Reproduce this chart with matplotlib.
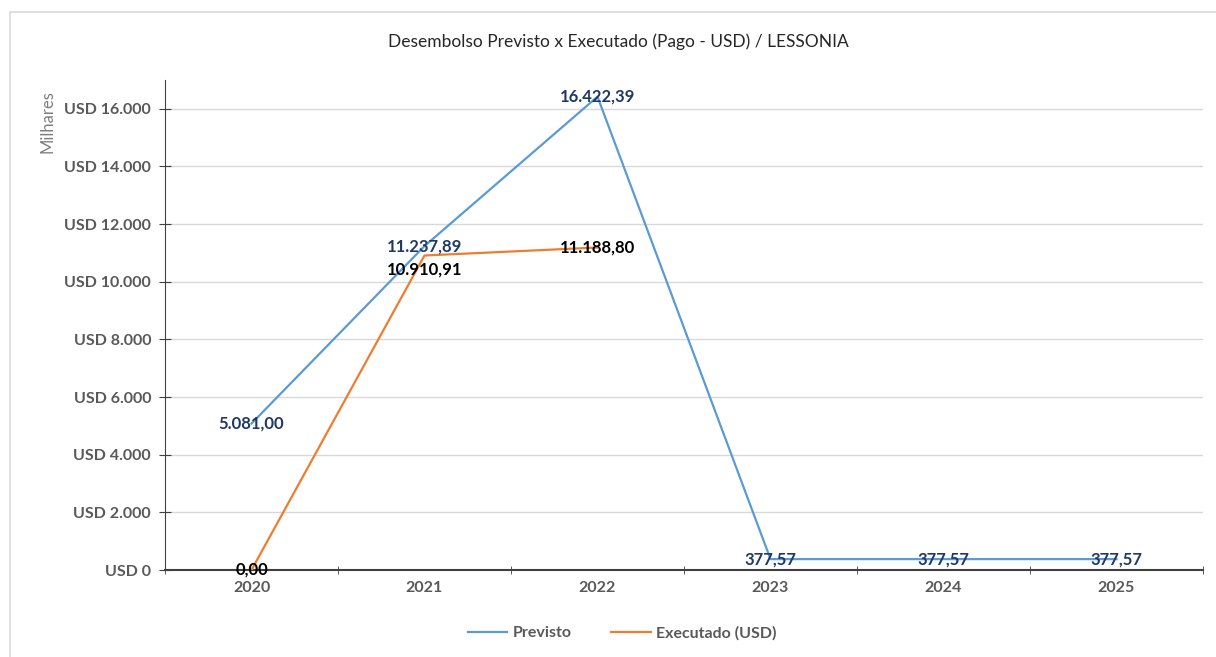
import matplotlib
matplotlib.use("Agg")
import matplotlib.pyplot as plt
from matplotlib.patches import Rectangle

plt.rcParams['font.family'] = ['Lato', 'DejaVu Sans']

anos = ['2020', '2021', '2022', '2023', '2024', '2025']
previsto = [5081.00, 11237.89, 16422.39, 377.57, 377.57, 377.57]
executado = [0.00, 10910.91, 11188.80]

def fmt_br(v):
    s = f"{v:,.2f}"
    return s.replace(',', 'X').replace('.', ',').replace('X', '.')

fig = plt.figure(figsize=(12.16, 6.57), dpi=100)
# chart border
fig.patches.append(Rectangle((10 / 1216, -0.01), 1.1, 1 - 12 / 657 + 0.01,
                             transform=fig.transFigure, fill=False,
                             edgecolor='#D9D9D9', linewidth=1.2))

ax = fig.add_axes([165 / 1216, 1 - 570 / 657, (1203 - 165) / 1216, (570 - 80) / 657])

x = list(range(len(anos)))
ax.plot(x, previsto, color='#5B9BD5', linewidth=1.6, label='Previsto', zorder=3)
ax.plot(x[:len(executado)], executado, color='#ED7D31', linewidth=1.6,
        label='Executado (USD)', zorder=3)

for i, v in enumerate(previsto):
    ax.text(i, v, fmt_br(v), ha='center', va='center', color='#1F3864',
            fontsize=12, fontweight='bold', zorder=4)
for i, v in enumerate(executado):
    dy = -480 if i == 1 else 0
    ax.text(i, v + dy, fmt_br(v), ha='center', va='center', color='black',
            fontsize=12, fontweight='bold', zorder=4)

ax.set_xlim(-0.5, len(anos) - 0.5)
ax.set_ylim(0, 17000)
yt = list(range(0, 16001, 2000))
ax.set_yticks(yt)
ax.set_yticklabels(['USD ' + f"{t:,}".replace(',', '.') for t in yt],
                   fontsize=11.5, fontweight='bold', color='#595959')
ax.set_xticks(x)
ax.set_xticklabels(anos, fontsize=11.5, fontweight='bold', color='#595959')
ax.set_xticks([i - 0.5 for i in range(len(anos) + 1)], minor=True)
ax.tick_params(axis='x', which='major', length=0, pad=8)
ax.tick_params(axis='x', which='minor', length=6, direction='inout', color='#404040')
ax.tick_params(axis='y', length=8, direction='inout', color='#404040', pad=6)

ax.grid(axis='y', color='#D9D9D9', linewidth=1)
ax.set_axisbelow(True)
for s in ['top', 'right']:
    ax.spines[s].set_visible(False)
ax.spines['left'].set_color('#404040')
ax.spines['bottom'].set_color('#404040')
ax.spines['bottom'].set_linewidth(1.5)

fig.text(48 / 1216, 1 - 122 / 657, 'Milhares', rotation=90, ha='center', va='center',
         color='#7F7F7F', fontsize=12)
fig.text(618 / 1216, 1 - 42 / 657, 'Desembolso Previsto x Executado (Pago - USD) / LESSONIA',
         ha='center', va='center', color='#262626', fontsize=12.5)

fig.legend(loc='center', bbox_to_anchor=(622 / 1216, 1 - 633 / 657), ncol=2,
           frameon=False, prop={'size': 11.5, 'weight': 'bold'}, labelcolor='#595959',
           handlelength=2.5, columnspacing=2.5, handletextpad=0.3)

fig.savefig('out.png', dpi=100)
